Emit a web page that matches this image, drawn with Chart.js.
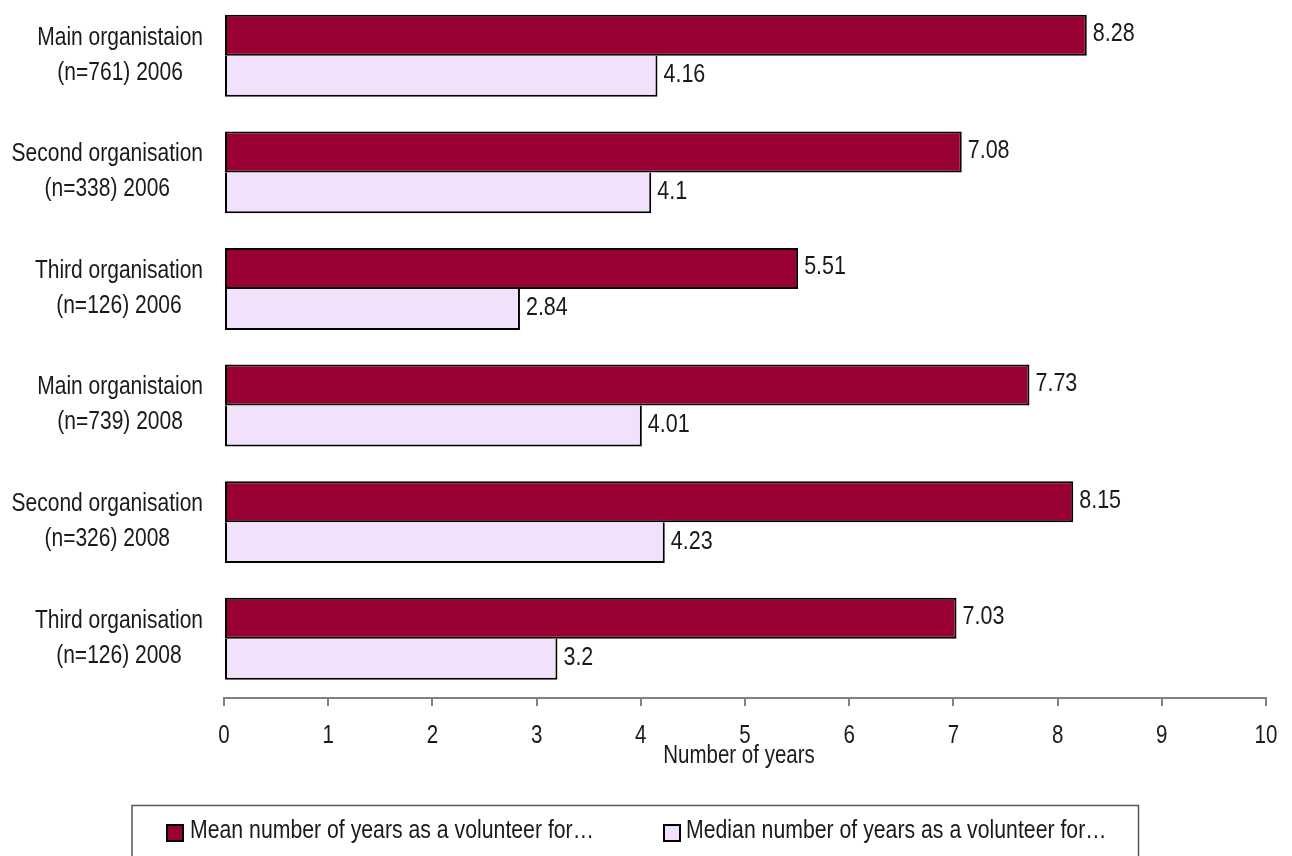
<!DOCTYPE html>
<html>
<head>
<meta charset="utf-8">
<title>Years as a volunteer</title>
<script src="https://cdn.jsdelivr.net/npm/chart.js@4.4.1/dist/chart.umd.min.js"></script>
<style>
  html, body { margin: 0; padding: 0; background: #ffffff; }
  #wrap { position: relative; width: 1292px; height: 856px; }
</style>
</head>
<body>
<div id="wrap"><canvas id="chart" width="1292" height="856"></canvas></div>
<script>
// Category labels (two lines each)
const categories = [
  ['Main organistaion', '(n=761) 2006'],
  ['Second organisation', '(n=338) 2006'],
  ['Third organisation', '(n=126) 2006'],
  ['Main organistaion', '(n=739) 2008'],
  ['Second organisation', '(n=326) 2008'],
  ['Third organisation', '(n=126) 2008']
];
const meanYears = [8.28, 7.08, 5.51, 7.73, 8.15, 7.03];
const medianYears = [4.16, 4.1, 2.84, 4.01, 4.23, 3.2];
const seriesNames = [
  'Mean number of years as a volunteer for\u2026',
  'Median number of years as a volunteer for\u2026'
];
const axisTitle = 'Number of years';
const xMin = 0, xMax = 10, xStep = 1;

const FONT = "'Liberation Sans', Arial, sans-serif";
const TEXT = '#1a1a1a';

// Draws condensed text: regular face squeezed horizontally by `squeeze`
function narrowText(ctx, text, x, y, align, squeeze) {
  const w = ctx.measureText(text).width * squeeze;
  let left = x;
  if (align === 'center') left = x - w / 2;
  else if (align === 'right') left = x - w;
  ctx.save();
  ctx.textAlign = 'left';
  ctx.translate(left, y);
  ctx.scale(squeeze, 1);
  ctx.fillText(text, 0, 0);
  ctx.restore();
  return w;
}

// Lets the category band start a little above the canvas top edge
const categoryBand = {
  id: 'categoryBand',
  afterLayout(chart) {
    const y = chart.scales.y;
    y.top = -2.5;
    y.bottom = 697;
    y.configure();
  }
};

// Two-line category labels, each block centred on itself and right-aligned as a block
const categoryLabels = {
  id: 'categoryLabels',
  afterDraw(chart) {
    const ctx = chart.ctx;
    const y = chart.scales.y;
    const sq = 0.84;
    ctx.save();
    ctx.font = '25px ' + FONT;
    ctx.fillStyle = TEXT;
    ctx.textBaseline = 'middle';
    const rightEdge = 203;
    chart.data.labels.forEach((lines, i) => {
      const cy = y.getPixelForValue(i);
      const widest = Math.max(...lines.map(l => ctx.measureText(l).width)) * sq;
      const cx = rightEdge - widest / 2;
      narrowText(ctx, lines[0], cx, cy - 18, 'center', sq);
      narrowText(ctx, lines[1], cx, cy + 17, 'center', sq);
    });
    ctx.restore();
  }
};

// Tick numbers and title under the x axis
const xAxisText = {
  id: 'xAxisText',
  afterDraw(chart) {
    const ctx = chart.ctx;
    const x = chart.scales.x;
    ctx.save();
    ctx.font = '25px ' + FONT;
    ctx.fillStyle = TEXT;
    ctx.textBaseline = 'middle';
    x.ticks.forEach(t => {
      narrowText(ctx, String(t.value), x.getPixelForValue(t.value), 736, 'center', 0.82);
    });
    narrowText(ctx, axisTitle, (x.left + x.right) / 2 - 6, 756, 'center', 0.82);
    ctx.restore();
  }
};

// Value printed at the end of every bar
const valueLabels = {
  id: 'valueLabels',
  afterDatasetsDraw(chart) {
    const ctx = chart.ctx;
    ctx.save();
    ctx.font = '25px ' + FONT;
    ctx.fillStyle = TEXT;
    ctx.textBaseline = 'middle';
    chart.data.datasets.forEach((ds, di) => {
      chart.getDatasetMeta(di).data.forEach((bar, i) => {
        narrowText(ctx, String(ds.data[i]), bar.x + 6, bar.y - 1, 'left', 0.86);
      });
    });
    ctx.restore();
  }
};

// Boxed legend below the axis
const boxedLegend = {
  id: 'boxedLegend',
  afterDraw(chart) {
    const ctx = chart.ctx;
    const box = { left: 132, top: 805.5, right: 1138.5, bottom: 870 };
    ctx.save();
    ctx.lineWidth = 1.5;
    ctx.strokeStyle = '#555555';
    ctx.strokeRect(box.left, box.top, box.right - box.left, box.bottom - box.top);
    const items = [{ sx: 167, tx: 190 }, { sx: 664, tx: 686 }];
    ctx.font = '25px ' + FONT;
    ctx.textBaseline = 'middle';
    chart.data.datasets.forEach((ds, i) => {
      const it = items[i];
      ctx.fillStyle = ds.backgroundColor;
      ctx.fillRect(it.sx, 825, 16, 16);
      ctx.lineWidth = 2;
      ctx.strokeStyle = '#000000';
      ctx.strokeRect(it.sx, 825, 16, 16);
      ctx.fillStyle = TEXT;
      narrowText(ctx, ds.label, it.tx, 831, 'left', 0.85);
    });
    ctx.restore();
  }
};

new Chart(document.getElementById('chart'), {
  type: 'bar',
  data: {
    labels: categories,
    datasets: [
      {
        label: seriesNames[0],
        data: meanYears,
        backgroundColor: '#990033',
        borderColor: '#000000',
        borderWidth: 2,
        borderSkipped: false,
        categoryPercentage: 0.703,
        barPercentage: 1.0
      },
      {
        label: seriesNames[1],
        data: medianYears,
        backgroundColor: '#f1e1fb',
        borderColor: '#000000',
        borderWidth: { top: 0, left: 2, right: 2, bottom: 2 },
        borderSkipped: false,
        categoryPercentage: 0.703,
        barPercentage: 1.0
      }
    ]
  },
  options: {
    indexAxis: 'y',
    responsive: false,
    animation: false,
    events: [],
    layout: { padding: { top: 0, right: 26, bottom: 85, left: 0 } },
    plugins: {
      legend: { display: false },
      title: { display: false },
      tooltip: { enabled: false }
    },
    scales: {
      y: {
        grid: { display: false },
        border: { display: false },
        ticks: { display: false },
        afterFit(scale) { scale.width = 224; }
      },
      x: {
        min: xMin,
        max: xMax,
        ticks: { stepSize: xStep, display: false },
        grid: {
          drawOnChartArea: false,
          drawTicks: true,
          tickLength: 8,
          color: '#808080',
          lineWidth: 2
        },
        border: { display: true, color: '#808080', width: 2 },
        afterFit(scale) { scale.height = 73; }
      }
    }
  },
  plugins: [categoryBand, categoryLabels, xAxisText, valueLabels, boxedLegend]
});
</script>
</body>
</html>
